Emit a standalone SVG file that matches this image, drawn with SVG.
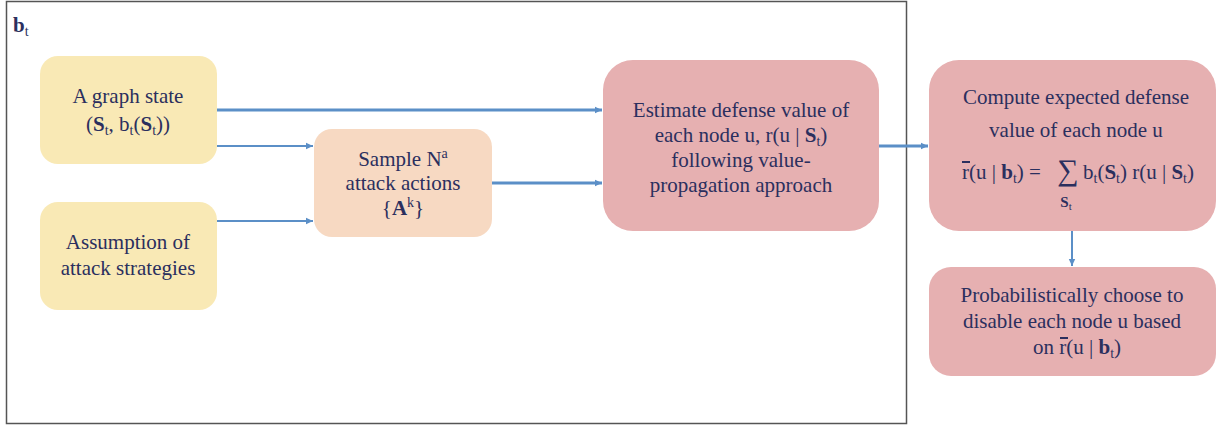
<svg xmlns="http://www.w3.org/2000/svg" width="1218" height="426" viewBox="0 0 1218 426">
<style>
text{font-family:"Liberation Serif","Times New Roman",serif;font-size:21px;fill:#2b2f5e}
.m{text-anchor:middle}
.b{font-weight:bold}
.s{font-size:14px;font-weight:normal}
.y{fill:#f9e9b5}
.o{fill:#f7d9c2}
.p{fill:#e6b0b1}
.c{stroke:#5b8fc7;fill:none}
.ol{stroke:#2b2f5e;stroke-width:2}
.sig{font-size:30px}
.sub{font-size:15px;font-weight:bold}
</style>
<defs>
<marker id="ah" markerUnits="userSpaceOnUse" markerWidth="8" markerHeight="8" refX="7" refY="4" orient="auto">
<path d="M0,0.8 L7,4 L0,7.2 Z" fill="#5b8fc7"/>
</marker>
</defs>
<rect x="6.5" y="1.5" width="900" height="422" fill="#fff" stroke="#555" stroke-width="1.5"/>
<text x="13" y="32" class="b">b<tspan dy="4" class="s">t</tspan></text>

<g id="connectors">
<line class="c" x1="217" y1="110" x2="602" y2="110" stroke-width="3" marker-end="url(#ah)"/>
<line class="c" x1="217" y1="146" x2="313" y2="146" stroke-width="2" marker-end="url(#ah)"/>
<line class="c" x1="217" y1="221" x2="313" y2="221" stroke-width="2" marker-end="url(#ah)"/>
<line class="c" x1="492" y1="183" x2="602" y2="183" stroke-width="3" marker-end="url(#ah)"/>
<line class="c" x1="879" y1="146" x2="928" y2="146" stroke-width="3" marker-end="url(#ah)"/>
<line class="c" x1="1072" y1="231" x2="1072" y2="266" stroke-width="2" marker-end="url(#ah)"/>
</g>

<g id="graph-state">
<rect class="y" x="40" y="56" width="177" height="108" rx="18"/>
<text x="128" y="103" class="m">A graph state</text>
<text x="128" y="131" class="m">(<tspan class="b">S</tspan><tspan dy="4" class="s">t</tspan><tspan dy="-4">, b</tspan><tspan dy="4" class="s">t</tspan><tspan dy="-4">(</tspan><tspan class="b">S</tspan><tspan dy="4" class="s">t</tspan><tspan dy="-4">))</tspan></text>
</g>

<g id="assumption">
<rect class="y" x="40" y="202" width="177" height="108" rx="18"/>
<text x="128" y="249" class="m">Assumption of</text>
<text x="128" y="275" class="m">attack strategies</text>
</g>

<g id="sample">
<rect class="o" x="314" y="129" width="178" height="108" rx="18"/>
<text x="403" y="166" class="m">Sample N<tspan dy="-8" class="s">a</tspan></text>
<text x="403" y="190" class="m">attack actions</text>
<text x="403" y="215" class="m">{<tspan class="b">A</tspan><tspan dy="-8" class="s">k</tspan><tspan dy="8">}</tspan></text>
</g>

<g id="estimate">
<rect class="p" x="603" y="60" width="276" height="171" rx="30"/>
<text x="741" y="117" class="m">Estimate defense value of</text>
<text x="741" y="142" class="m">each node u, r(u | <tspan class="b">S</tspan><tspan dy="4" class="s">t</tspan><tspan dy="-4">)</tspan></text>
<text x="741" y="167" class="m">following value-</text>
<text x="741" y="192" class="m">propagation approach</text>
</g>

<g id="compute">
<rect class="p" x="929" y="60" width="287" height="171" rx="30"/>
<text x="1076" y="104" class="m">Compute expected defense</text>
<text x="1076" y="137" class="m">value of each node u</text>
<line class="ol" x1="962" y1="162" x2="970" y2="162"/>
<text x="962" y="179">r(u | <tspan class="b">b</tspan><tspan dy="4" class="s">t</tspan><tspan dy="-4">) =</tspan></text>
<text x="1068" y="180" class="m sig">∑</text>
<text x="1066" y="207" class="m sub">S<tspan dy="3" class="s" style="font-size:11px">t</tspan></text>
<text x="1083" y="179">b<tspan dy="4" class="s">t</tspan><tspan dy="-4">(</tspan><tspan class="b">S</tspan><tspan dy="4" class="s">t</tspan><tspan dy="-4">) r(u | </tspan><tspan class="b">S</tspan><tspan dy="4" class="s">t</tspan><tspan dy="-4">)</tspan></text>
</g>

<g id="choose">
<rect class="p" x="929" y="267" width="287" height="109" rx="22"/>
<text x="1072" y="302" class="m">Probabilistically choose to</text>
<text x="1072" y="328" class="m">disable each node u based</text>
<text x="1033" y="354">on r(u | <tspan class="b">b</tspan><tspan dy="4" class="s">t</tspan><tspan dy="-4">)</tspan></text>
<line class="ol" x1="1060" y1="338" x2="1068" y2="338"/>
</g>
</svg>
